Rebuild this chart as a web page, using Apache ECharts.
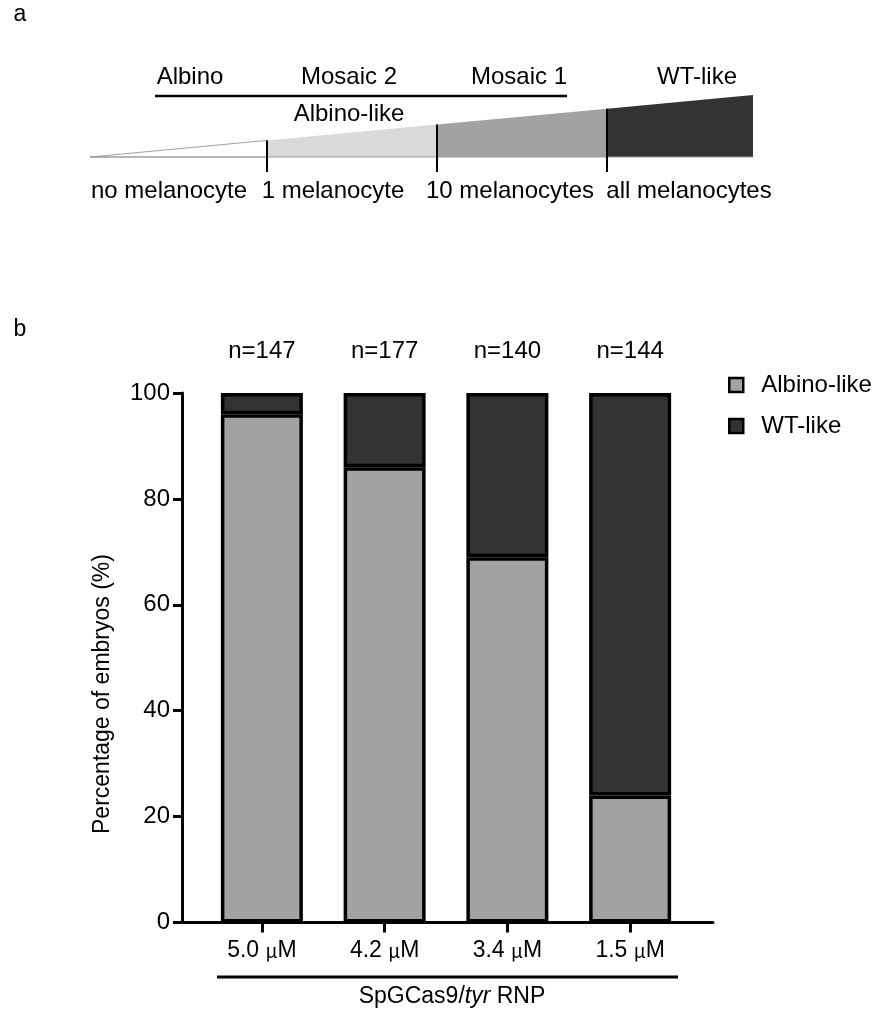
<!DOCTYPE html>
<html><head><meta charset="utf-8">
<script src="https://cdn.jsdelivr.net/npm/echarts@6/dist/echarts.min.js"></script>
<style>html,body{margin:0;padding:0;background:#fff}#c{width:877px;height:1014px}</style>
</head><body><div id="c"></div>
<script>
const categories = ['5.0', '4.2', '3.4', '1.5'];
const albinoLike = [96, 86, 69, 24];
const wtLike = [4, 14, 31, 76];
const nValues = [147, 177, 140, 144];
const yTicks = [0, 20, 40, 60, 80, 100];
const stageLabels = ['Albino', 'Mosaic 2', 'Mosaic 1', 'WT-like'];
const countLabels = ['no melanocyte', '1 melanocyte', '10 melanocytes', 'all melanocytes'];

const FONT = 'Liberation Sans, Arial, sans-serif';
const chart = echarts.init(document.getElementById('c'), null, {renderer: 'canvas'});

// Panel a schematic geometry
const wx0 = 90, wx1 = 753, wBase = 157, wTop = 95;
const bounds = [wx0, 267, 437, 607, wx1];
const fills = ['#ffffff', '#d9d9d9', '#a2a2a5', '#333333'];
function topY(x){ return wBase - (x - wx0) / (wx1 - wx0) * (wBase - wTop); }
const g = [];
g.push({type:'text', x:20, y:15, style:{text:'a', font:'23px ' + FONT, fill:'#000', align:'center', verticalAlign:'middle'}});
g.push({type:'text', x:20, y:330, style:{text:'b', font:'23px ' + FONT, fill:'#000', align:'center', verticalAlign:'middle'}});
for (let i = 0; i < 4; i++) {
  const a = bounds[i], b = bounds[i+1];
  g.push({type:'polygon', shape:{points:[[a,wBase],[b,wBase],[b,topY(b)],[a,topY(a)]]},
    style:{fill:fills[i], stroke: i===0 ? '#888' : fills[i], lineWidth: i===0 ? 0.8 : 0}});
}
g.push({type:'line', shape:{x1:wx0,y1:wBase,x2:wx1,y2:wBase}, style:{stroke:'#999', lineWidth:1}});
for (let i = 1; i < 4; i++) {
  g.push({type:'line', shape:{x1:bounds[i],y1:topY(bounds[i]),x2:bounds[i],y2:172}, style:{stroke:'#000', lineWidth:2}});
}
const stageX = [190, 349, 519, 697];
stageLabels.forEach((t,i)=>g.push({type:'text', x:stageX[i], y:77, style:{text:t, font:'24px '+FONT, fill:'#000', align:'center', verticalAlign:'middle'}}));
g.push({type:'line', shape:{x1:155,y1:96,x2:567,y2:96}, style:{stroke:'#000', lineWidth:2.5}});
g.push({type:'text', x:349, y:114, style:{text:'Albino-like', font:'24px '+FONT, fill:'#000', align:'center', verticalAlign:'middle'}});
const countX = [169, 333, 510, 689];
countLabels.forEach((t,i)=>g.push({type:'text', x:countX[i], y:191, style:{text:t, font:'24px '+FONT, fill:'#000', align:'center', verticalAlign:'middle'}}));
// y axis title
g.push({type:'text', x:103, y:694, rotation:Math.PI/2, style:{text:'Percentage of embryos (%)', font:'23px '+FONT, fill:'#000', align:'center', verticalAlign:'middle'}});
// bracket under x axis
g.push({type:'line', shape:{x1:217,y1:977,x2:678,y2:977}, style:{stroke:'#000', lineWidth:3}});
g.push({type:'text', x:452, y:997, style:{rich:{n:{font:'23px '+FONT, fill:'#000'}, i:{font:'italic 23px '+FONT, fill:'#000'}},
  text:'{n|SpGCas9/}{i|tyr}{n| RNP}', align:'center', verticalAlign:'middle'}});

const option = {
  backgroundColor:'#fff',
  animation:false,
  textStyle:{fontFamily:FONT},
  graphic: g,
  legend:{
    orient:'vertical', left:723, top:368, itemGap:17, itemWidth:14, itemHeight:14, icon:'rect',
    itemStyle:{borderColor:'#000', borderWidth:2.5},
    textStyle:{fontSize:24, color:'#000', fontFamily:FONT, padding:[0,0,0,13]},
    data:['Albino-like','WT-like']
  },
  grid:[
    {left:182, right:164, top:393, bottom:91.5},
    {left:200.5, right:185.5, top:393, bottom:91.5}
  ],
  xAxis:[
    {gridIndex:0, type:'value', min:0, max:1, splitLine:{show:false},
      axisLine:{show:true, onZero:false, lineStyle:{color:'#000', width:3}},
      axisTick:{show:false}, axisLabel:{show:false}},
    {gridIndex:1, type:'category', data:categories, boundaryGap:true,
      axisLine:{show:false},
      axisTick:{show:true, alignWithLabel:true, length:10, lineStyle:{color:'#000', width:3}},
      axisLabel:{interval:0, hideOverlap:false, margin:17, formatter:v=>v + ' {mu|μ}M', fontSize:23, color:'#000',
        rich:{mu:{fontSize:19, fontFamily:'Noto Sans CJK SC', color:'#000'}}}}
  ],
  yAxis:[
    {gridIndex:0, type:'value', min:0, max:100, interval:20,
      splitLine:{show:false},
      axisLine:{show:true, onZero:false, lineStyle:{color:'#000', width:3}},
      axisTick:{show:true, length:9, lineStyle:{color:'#000', width:3}},
      axisLabel:{fontSize:24, color:'#000', margin:12}},
    {gridIndex:1, type:'value', min:0, max:100, interval:20, show:false, splitLine:{show:false}}
  ],
  series:[
    {name:'Albino-like', type:'bar', stack:'s', barWidth:82, xAxisIndex:1, yAxisIndex:1,
      data: albinoLike,
      itemStyle:{color:'#a2a2a5', borderColor:'#000', borderWidth:3.5}},
    {name:'WT-like', type:'bar', stack:'s', barWidth:82, xAxisIndex:1, yAxisIndex:1,
      data: wtLike,
      itemStyle:{color:'#333333', borderColor:'#000', borderWidth:3.5},
      label:{show:true, position:'top', distance:30, fontSize:24, color:'#000',
        formatter:p=>'n=' + nValues[p.dataIndex]}}
  ]
};
chart.setOption(option);
</script></body></html>
